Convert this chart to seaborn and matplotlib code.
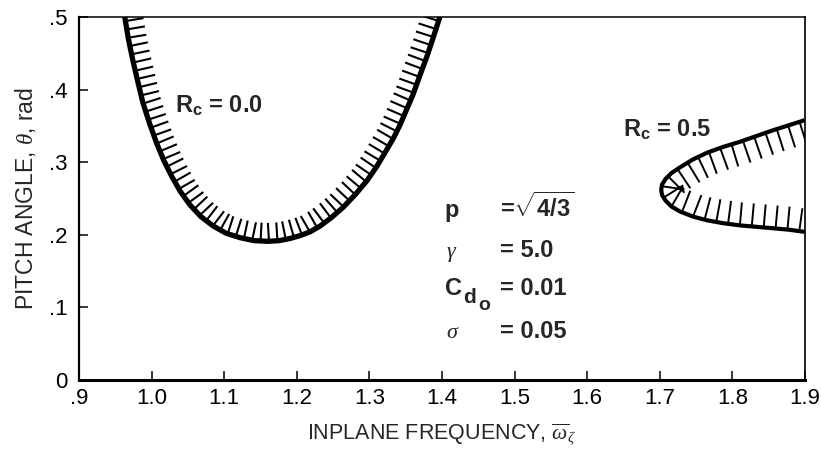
import matplotlib
matplotlib.use("Agg")
import matplotlib.pyplot as plt
import matplotlib.patheffects as pe
from matplotlib.transforms import offset_copy
import seaborn as sns

# Stability boundary for R_c = 0.0 (left branch -> minimum -> right branch)
rc0_freq = [0.963, 0.968, 0.974, 0.981, 0.988, 0.997, 1.007, 1.017, 1.028,
            1.040, 1.053, 1.068, 1.085, 1.103, 1.122, 1.141, 1.160, 1.176,
            1.191, 1.205, 1.218, 1.232, 1.248, 1.264, 1.281, 1.297, 1.310,
            1.322, 1.333, 1.342, 1.351, 1.360, 1.369, 1.379, 1.388, 1.397]
rc0_pitch = [0.500, 0.470, 0.441, 0.411, 0.382, 0.354, 0.326, 0.302, 0.280,
             0.259, 0.241, 0.225, 0.212, 0.202, 0.196, 0.192, 0.191, 0.192,
             0.195, 0.199, 0.204, 0.212, 0.224, 0.238, 0.256, 0.275, 0.294,
             0.314, 0.333, 0.351, 0.372, 0.393, 0.418, 0.445, 0.472, 0.500]

# Stability boundary for R_c = 0.5 (upper branch -> nose -> lower branch)
rc5_freq = [1.900, 1.878, 1.856, 1.833, 1.810, 1.787, 1.765, 1.746, 1.728,
            1.716, 1.708, 1.703, 1.702, 1.703, 1.708, 1.716, 1.728, 1.746,
            1.765, 1.787, 1.810, 1.833, 1.856, 1.878, 1.900]
rc5_pitch = [0.358, 0.351, 0.344, 0.336, 0.328, 0.321, 0.313, 0.304, 0.293,
             0.285, 0.277, 0.269, 0.262, 0.255, 0.247, 0.239, 0.232, 0.225,
             0.220, 0.216, 0.213, 0.211, 0.209, 0.207, 0.204]

x_ticks = [0.9, 1.0, 1.1, 1.2, 1.3, 1.4, 1.5, 1.6, 1.7, 1.8, 1.9]
x_tick_labels = [".9", "1.0", "1.1", "1.2", "1.3", "1.4", "1.5", "1.6", "1.7", "1.8", "1.9"]
y_ticks = [0.0, 0.1, 0.2, 0.3, 0.4, 0.5]
y_tick_labels = ["0", ".1", ".2", ".3", ".4", ".5"]

param_values = [r"=$\sqrt{\mathbf{4/3}}$", "= 5.0", "= 0.01", "= 0.05"]
param_rows = [0.2245, 0.169, 0.117, 0.058]

sns.set_style("ticks")
sans = ["Liberation Sans Narrow", "Liberation Sans", "DejaVu Sans"]
bold_sans = ["Liberation Sans", "DejaVu Sans"]
plt.rcParams["font.family"] = sans
plt.rcParams["mathtext.fontset"] = "custom"
plt.rcParams["mathtext.rm"] = "Liberation Sans"
plt.rcParams["mathtext.bf"] = "Liberation Sans:bold"
plt.rcParams["mathtext.it"] = "Liberation Serif:italic"
plt.rcParams["mathtext.sf"] = "Liberation Sans"

fig = plt.figure(figsize=(8.21, 4.58), dpi=100)
ax = fig.add_axes([79 / 821, 1 - 380 / 458, 726 / 821, 363 / 458])

# Hatched boundaries: ticks point into the unstable region
sns.lineplot(x=rc0_freq, y=rc0_pitch, sort=False, estimator=None, ax=ax,
             color="black", linewidth=3.8, solid_capstyle="butt",
             path_effects=[pe.withTickedStroke(angle=90, spacing=6.0, length=2.2,
                                               linewidth=1.5)])
sns.lineplot(x=rc5_freq, y=rc5_pitch, sort=False, estimator=None, ax=ax,
             color="black", linewidth=3.0, solid_capstyle="butt",
             path_effects=[pe.withTickedStroke(angle=90, spacing=8.3, length=2.0,
                                               linewidth=1.4)])

ax.set_xlim(0.9, 1.9)
ax.set_ylim(0.0, 0.5)
ax.set_xticks(x_ticks)
ax.set_xticklabels(x_tick_labels)
ax.set_yticks(y_ticks)
ax.set_yticklabels(y_tick_labels)
ax.tick_params(direction="in", length=6.5, width=1.1, labelsize=16, colors="black")
ax.tick_params(axis="x", pad=6)
ax.tick_params(axis="y", pad=8)

for side, lw in {"left": 1.6, "bottom": 2.2, "top": 1.1, "right": 1.2}.items():
    ax.spines[side].set_visible(True)
    ax.spines[side].set_linewidth(lw)
    ax.spines[side].set_color("black")

ax.set_xlabel(r"INPLANE FREQUENCY, $\overline{\omega}_{\zeta}$", fontsize=15.5, labelpad=9)
ax.set_ylabel(r"PITCH ANGLE, $\theta$, rad", fontsize=16.5, labelpad=8)

ax.text(1.032, 0.368, r"R$_\mathbf{c}$ = 0.0", fontsize=17, fontweight="bold",
        family=bold_sans, va="baseline", ha="left")
ax.text(1.649, 0.335, r"R$_\mathbf{c}$ = 0.5", fontsize=17, fontweight="bold",
        family=bold_sans, va="baseline", ha="left")

# Parameter block
ax.text(1.404, param_rows[0], "p", fontsize=17, fontweight="bold",
        family=bold_sans, va="baseline", ha="left")
ax.text(1.406, param_rows[1], r"$\gamma$", fontsize=16, va="baseline", ha="left")
ax.text(1.404, param_rows[2], "C", fontsize=17, fontweight="bold",
        family=bold_sans, va="baseline", ha="left")
ax.text(1.404, param_rows[2], "d", fontsize=15, fontweight="bold", family=bold_sans,
        va="baseline", ha="left",
        transform=offset_copy(ax.transData, fig=fig, x=13, y=-6, units="points"))
ax.text(1.404, param_rows[2], "o", fontsize=14, fontweight="bold", family=bold_sans,
        va="baseline", ha="left",
        transform=offset_copy(ax.transData, fig=fig, x=24, y=-11, units="points"))
ax.text(1.406, param_rows[3], r"$\sigma$", fontsize=16, va="baseline", ha="left")
for val, yy in zip(param_values, param_rows):
    ax.text(1.480, yy, val, fontsize=17, fontweight="bold",
            family=bold_sans, va="baseline", ha="left")

fig.savefig("out.png", dpi=100, facecolor="white")
